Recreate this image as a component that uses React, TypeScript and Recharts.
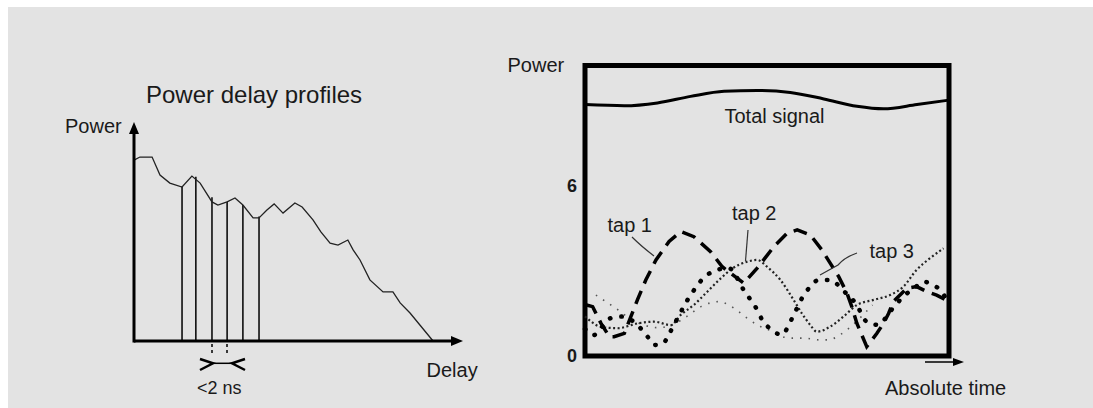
import React from "react";
import {
	LineChart,
	Line,
	XAxis,
	YAxis,
	ReferenceLine,
	ReferenceDot,
	ReferenceArea,
} from "recharts";

// left panel: power delay profile
const delay = [0, 1.8, 5.5, 7.9, 10.9, 14.6, 17.6, 20.1, 23.7, 25.5, 28.3, 30.7, 33.1, 36.2, 38, 40.4, 42.6, 45.3, 48.9, 51.1, 54.4, 56.8, 59.6, 62, 65, 66.6, 68.7, 71.7, 75.7, 78.7, 80.9, 83.9, 86.9, 90.9];
const profile = [82.6, 84, 84, 75.8, 72.1, 70.3, 75.3, 72.1, 63.5, 62.1, 63.5, 65.3, 62.1, 56.2, 56.2, 59.8, 62.6, 58.4, 63, 61.2, 55.3, 49.8, 44.7, 43.8, 46.1, 41.6, 37, 27.9, 22.4, 22.4, 17.4, 12.8, 7.3, 0];
const tapDelay = [14.6, 18.8, 23.7, 28.3, 33.1, 38];
const tapPower = [70.5, 75, 65.6, 63.6, 62.1, 56.8];

// right panel: power vs absolute time
const totalT = [0, 10.8, 19.9, 29, 38.2, 47.3, 56.4, 65.6, 74.7, 82, 91.2, 100];
const totalV = [8.87, 8.83, 8.93, 9.16, 9.34, 9.37, 9.3, 9.07, 8.81, 8.72, 8.87, 9.03];

const tap1T = [0.4, 2.1, 4.4, 6.7, 8, 10.8, 12.6, 14.4, 16.7, 19.5, 23.1, 26.3, 29.9, 34.5, 37.7, 40, 43.6, 47.3, 51.9, 55.5, 58.3, 61.9, 65.1, 67.4, 69.7, 72, 73.3, 74.7, 77.4, 80.2, 82, 83.4, 84.7, 88.4, 91.1, 93.9, 96.6, 98.9];
const tap1V = [1.8, 1.74, 1.15, 0.68, 0.68, 0.8, 1.39, 1.98, 2.68, 3.39, 4.04, 4.39, 4.21, 3.68, 3.15, 2.92, 2.57, 3.1, 3.86, 4.33, 4.45, 4.27, 3.74, 3.27, 2.8, 2.21, 1.74, 1.15, 0.33, 0.8, 1.15, 1.5, 1.92, 2.39, 2.45, 2.27, 2.15, 2.0];

const tap2T = [0, 4.4, 9, 14.4, 19, 23.6, 26.3, 29.9, 33.6, 37.3, 40.5, 44.6, 47.3, 50, 53.7, 57.3, 59.6, 61.9, 63.7, 67.4, 71, 74.7, 79.3, 83.8, 87.5, 91.1, 94.8, 98.5];
const tap2V = [1.4, 1.03, 0.98, 1.15, 1.21, 1.09, 1.45, 1.8, 2.27, 2.74, 3.09, 3.33, 3.39, 3.15, 2.68, 1.98, 1.5, 1.09, 0.86, 1.04, 1.39, 1.8, 1.98, 2.15, 2.45, 3.04, 3.45, 3.8];

const tap3T = [0, 2.4, 6.9, 10.3, 13.5, 17.2, 19, 21.5, 23.1, 25.5, 27.7, 29.5, 31.3, 33.6, 36.4, 39.5, 43.6, 45.5, 47.3, 48.7, 51, 54, 56.9, 59.6, 61.5, 64.2, 67.4, 71, 74.4, 77.4, 80.5, 84, 87.9, 90.5, 93, 95.7, 98, 99.5];
const tap3V = [0.95, 0.74, 1.33, 1.39, 1.2, 0.68, 0.39, 0.45, 0.78, 1.35, 1.88, 2.24, 2.57, 2.86, 3.04, 3.1, 2.33, 1.98, 1.63, 1.27, 0.95, 0.75, 1.33, 2.04, 2.39, 2.68, 2.68, 2.3, 1.85, 1.21, 1.1, 1.6, 2.15, 2.4, 2.62, 2.5, 2.27, 1.95];

const faintT = [3, 5.7, 8.5, 12, 16, 20, 24, 28, 32, 36.8, 39.5, 42.3, 45, 48.2, 50.6, 53.4, 57, 60.2, 64.3, 67, 69.9, 73.1, 76, 79];
const faintV = [2.15, 1.92, 1.68, 1.35, 1.1, 1.0, 1.1, 1.4, 1.75, 1.92, 1.8, 1.56, 1.29, 1.04, 0.92, 0.71, 0.63, 0.63, 0.57, 0.57, 0.74, 1.04, 1.4, 1.8];

const yTicks = [0, 6];

const pts = (t: number[], v: number[]) => t.map((x, i) => ({ t: x, v: v[i] }));

const font = "'Liberation Sans', Arial, sans-serif";
const ink = "#1a1a1a";

const ArrowRight = (p: any) => (
	<path d={`M${p.cx},${p.cy} L${p.cx - 12},${p.cy - 5} L${p.cx - 12},${p.cy + 5} Z`} fill="#000" />
);
const ArrowUp = (p: any) => (
	<path d={`M${p.cx},${p.cy} L${p.cx - 5},${p.cy + 12} L${p.cx + 5},${p.cy + 12} Z`} fill="#000" />
);

const App = () => {
	const profileData = delay.map((d, i) => ({ delay: d, power: profile[i] }));
	return (
		<div style={{ position: "fixed", left: 0, top: 0, width: 1093, height: 408, background: "#fff", overflow: "hidden" }}>
			<div style={{ position: "absolute", left: 8, top: 7, right: 0, bottom: 0, background: "#e3e3e3" }} />

			{/* left chart */}
			<div style={{ position: "absolute", left: 60, top: 110 }}>
				<LineChart width={420} height={250} data={profileData} margin={{ top: 12, right: 17, bottom: 19, left: 74 }}>
					<XAxis dataKey="delay" type="number" domain={[0, 100]} hide />
					<YAxis type="number" domain={[0, 100]} hide />
					{tapDelay.map((d, i) => (
						<ReferenceLine key={i} segment={[{ x: d, y: 0 }, { x: d, y: tapPower[i] }]} stroke="#000" strokeWidth={1.5} />
					))}
					<Line dataKey="power" type="linear" stroke="#222" strokeWidth={1.3} dot={false} isAnimationActive={false} />
					{/* axes with arrows */}
					<ReferenceLine segment={[{ x: 0, y: 0 }, { x: 97, y: 0 }]} ifOverflow="visible" stroke="#000" strokeWidth={3} />
					<ReferenceLine segment={[{ x: 0, y: -0.7 }, { x: 0, y: 96 }]} ifOverflow="visible" stroke="#000" strokeWidth={3} />
					<ReferenceDot x={100} y={0} ifOverflow="visible" shape={ArrowRight} />
					<ReferenceDot x={0} y={100} ifOverflow="visible" shape={ArrowUp} />
				</LineChart>
			</div>

			{/* right chart */}
			<div style={{ position: "absolute", left: 500, top: 40 }}>
				<LineChart width={480} height={330} margin={{ top: 25.5, right: 31, bottom: 14, left: 55 }}>
					<XAxis dataKey="t" type="number" domain={[0, 100]} hide />
					<YAxis type="number" domain={[0, 10.25]} ticks={yTicks} width={30} axisLine={false} tickLine={false}
						tick={{ fill: ink, fontSize: 18, fontWeight: 700, fontFamily: font }} />
					<Line data={pts(faintT, faintV)} dataKey="v" type="monotone" stroke="#555" strokeWidth={1.6} strokeDasharray="1.5 7" dot={false} isAnimationActive={false} />
					<Line data={pts(tap2T, tap2V)} dataKey="v" type="monotone" stroke="#222" strokeWidth={2.2} strokeDasharray="2 2.5" dot={false} isAnimationActive={false} />
					<Line data={pts(tap3T, tap3V)} dataKey="v" type="monotone" stroke="#000" strokeWidth={4.5} strokeDasharray="0.5 11" strokeLinecap="round" dot={false} isAnimationActive={false} />
					<Line data={pts(tap1T, tap1V)} dataKey="v" type="linear" stroke="#000" strokeWidth={3.5} strokeDasharray="14 8" dot={false} isAnimationActive={false} />
					<Line data={pts(totalT, totalV)} dataKey="v" type="monotone" stroke="#000" strokeWidth={3} dot={false} isAnimationActive={false} />
					<ReferenceArea x1={0} x2={100} y1={0} y2={10.25} ifOverflow="visible" fill="none" stroke="#000" strokeWidth={5} />
				</LineChart>
			</div>

			{/* labels and annotations */}
			<svg width={1093} height={408} style={{ position: "absolute", left: 0, top: 0, pointerEvents: "none" }} fontFamily={font} fill={ink}>
				<text x={146} y={103} fontSize={24}>Power delay profiles</text>
				<text x={65} y={132.5} fontSize={20}>Power</text>
				<text x={426.5} y={377} fontSize={20}>Delay</text>
				<text x={197} y={393.5} fontSize={18}>&lt;2 ns</text>
				<g stroke="#000" fill="none">
					<path d="M200,359 L213,363.3 L200,370" strokeWidth={2.5} />
					<path d="M213,363.3 L232,363.3" strokeWidth={1.5} />
					<path d="M245,359 L232,363.3 L245,370" strokeWidth={2.5} />
					<path d="M212,344 L212,347 M212,350 L212,353 M227,344 L227,347 M227,350 L227,353" strokeWidth={1.5} />
				</g>

				<text x={507.5} y={71.7} fontSize={20}>Power</text>
				<text x={724.5} y={122.5} fontSize={20}>Total signal</text>
				<text x={607.5} y={231.5} fontSize={20}>tap 1</text>
				<text x={732} y={220} fontSize={20}>tap 2</text>
				<text x={869.5} y={258} fontSize={20}>tap 3</text>
				<g stroke="#333" fill="none" strokeWidth={1.2}>
					<path d="M632,237 Q641,246 654,256" />
					<path d="M748,230 L745.5,261" />
					<path d="M857,253 Q845,257 838,265 L820,275" />
				</g>
				<text x={885} y={394.5} fontSize={20}>Absolute time</text>
				<path d="M925,362 L955,362" stroke="#000" strokeWidth={1.5} />
				<path d="M953,358 L964,362 L953,366 Z" fill="#000" />
			</svg>
		</div>
	);
};

export default App;
